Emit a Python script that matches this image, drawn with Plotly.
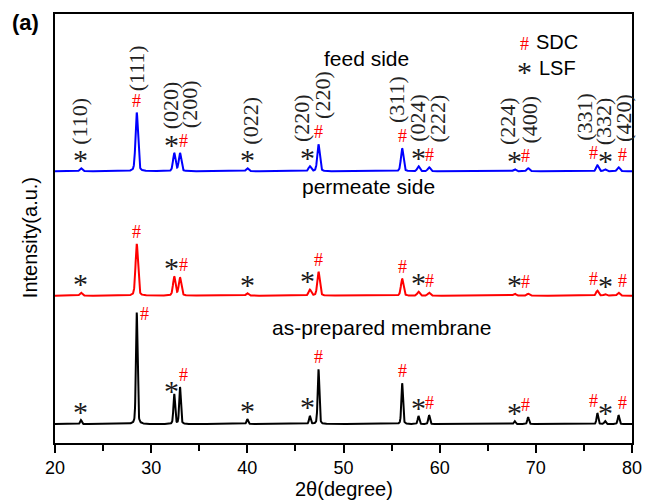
import numpy as np
import plotly.graph_objects as go

# Reflection positions (2θ, degree) and Miller indices of both phases
lsf_2theta = [22.7, 32.4, 40.0, 46.5, 57.8, 67.8, 77.2]
lsf_hkl = ["(110)", "(020)", "(022)", "(220)", "(024)", "(224)", "(332)"]
sdc_2theta = [28.5, 33.0, 47.4, 56.1, 58.9, 69.2, 76.4, 78.6]
sdc_hkl = ["(111)", "(200)", "(220)", "(311)", "(222)", "(400)", "(331)", "(420)"]

# Peak heights above background (a.u.) for each membrane side
asprep_lsf = [4, 30, 5, 8, 8, 3, 3]
asprep_sdc = [112, 37, 55, 41, 9, 7, 11, 9]
permeate_lsf = [3, 19, 2.5, 6, 4, 2, 1.5]
permeate_sdc = [52, 18, 24, 17, 3, 2, 5, 3]
feed_lsf = [3, 18, 3, 5, 5, 2, 2]
feed_sdc = [59, 18, 27, 23, 4, 3, 6, 4]

# Stacking: name, background level, colour, peak FWHM, LSF heights, SDC heights
patterns = [
    ("as-prepared membrane", 19, "#000000", 0.20, asprep_lsf, asprep_sdc),
    ("permeate side", 148, "#ff0000", 0.30, permeate_lsf, permeate_sdc),
    ("feed side", 273, "#0000ff", 0.30, feed_lsf, feed_sdc),
]

# horizontal nudges (px) keeping neighbouring markers apart
lsf_mark_dx = [0, -3, 0, -2, 0, 0, 0]
sdc_mark_dx = [0, 3, 0, 0, 0, -3, -4, 4]
lsf_label_dx = [-1, -4, 3, -9, -1, -7, -2]
sdc_label_dx = [0, 9, 4, -5, 8, 1, -13, 5]

SERIF = "Liberation Serif"
SANS = "Liberation Sans, Arial, sans-serif"
GAP = 12
STAR = dict(family=SERIF, size=30, color="#1a1a1a")
HASH = dict(family=SERIF, size=18, color="#ff0000")
HKL = dict(family=SERIF, size=22, color="#222222")


def profile(x, centers, heights, fwhm, eta=0.3):
    y = np.zeros_like(x)
    for c, h in zip(centers, heights):
        u = (x - c) / fwhm
        y += h * (eta / (1 + 4 * u**2) + (1 - eta) * np.exp(-4 * np.log(2) * u**2))
    return y


x = np.linspace(20, 80, 3001)
fig = go.Figure()
ann = []
all_pos = lsf_2theta + sdc_2theta

for name, base, color, fwhm, h_lsf, h_sdc in patterns:
    heights = h_lsf + h_sdc
    y = base + profile(x, all_pos, heights, fwhm)
    fig.add_trace(go.Scatter(x=x, y=y, mode="lines", name=name,
                             line=dict(color=color, width=2), showlegend=False))

    for i, t in enumerate(lsf_2theta):
        top = base + profile(np.array([t]), all_pos, heights, fwhm)[0]
        gap, dx = GAP, lsf_mark_dx[i]
        if name == "as-prepared membrane" and i == 1:
            gap = 6
        ann.append(dict(x=t, y=top + gap, text="*", showarrow=False, xshift=dx, yshift=-3,
                        font=STAR, xanchor="center", yanchor="middle"))
        if name == "feed side":
            ann.append(dict(x=t, y=top + gap + 10, text=lsf_hkl[i],
                            showarrow=False, textangle=-90, xshift=lsf_label_dx[i],
                            font=HKL, xanchor="center", yanchor="bottom"))

    for i, t in enumerate(sdc_2theta):
        top = base + profile(np.array([t]), all_pos, heights, fwhm)[0]
        gap, dx = GAP, sdc_mark_dx[i]
        if name == "as-prepared membrane" and i == 0:
            gap, dx = -1, 8
        ann.append(dict(x=t, y=top + gap, text="#", showarrow=False, xshift=dx,
                        font=HASH, xanchor="center", yanchor="middle"))
        if name == "feed side":
            lift = 7 if i == 0 else 11
            ann.append(dict(x=t, y=top + gap + lift, text=sdc_hkl[i],
                            showarrow=False, textangle=-90, xshift=sdc_label_dx[i],
                            font=HKL, xanchor="center", yanchor="bottom"))

# pattern names
name_pos = {"feed side": (52.4, 386), "permeate side": (52.6, 258), "as-prepared membrane": (54.0, 116)}
for name, (tx, ty) in name_pos.items():
    ann.append(dict(x=tx, y=ty, text=name, showarrow=False,
                    font=dict(family=SANS, size=21, color="#000000"),
                    xanchor="center", yanchor="middle"))

# phase key
ann += [
    dict(x=68.8, y=401, text="#", showarrow=False, font=HASH, xanchor="center", yanchor="middle"),
    dict(x=69.8, y=403, text="SDC", showarrow=False, font=dict(family=SANS, size=20, color="#000000"),
         xanchor="left", yanchor="middle"),
    dict(x=68.8, y=376, text="*", showarrow=False, font=STAR, yshift=-3, xanchor="center", yanchor="middle"),
    dict(x=70.1, y=377, text="LSF", showarrow=False, font=dict(family=SANS, size=20, color="#000000"),
         xanchor="left", yanchor="middle"),
]

# panel tag and axis titles
ann += [
    dict(xref="paper", yref="paper", x=-0.051, y=0.981, text="<b>(a)</b>", showarrow=False,
         font=dict(family=SANS, size=22, color="#000000"), xanchor="center", yanchor="middle"),
    dict(xref="paper", yref="paper", x=0.5, y=-0.107, text="2θ(degree)", showarrow=False,
         font=dict(family=SANS, size=20, color="#000000"), xanchor="center", yanchor="middle"),
    dict(xref="paper", yref="paper", x=-0.043, y=0.478, text="Intensity(a.u.)", showarrow=False,
         textangle=-90, font=dict(family=SANS, size=20, color="#000000"),
         xanchor="center", yanchor="middle"),
]

fig.update_layout(
    width=654, height=501,
    margin=dict(l=55, r=13, t=12, b=58),
    paper_bgcolor="white", plot_bgcolor="white",
    annotations=ann,
    xaxis=dict(range=[20, 80], dtick=10, tick0=20, ticks="outside", ticklen=8, tickwidth=1.5,
               tickcolor="black", showline=True, linecolor="black", linewidth=1.5, mirror=True,
               showgrid=False, zeroline=False,
               tickfont=dict(family=SANS, size=18, color="black"),
               minor=dict(dtick=5, ticks="outside", ticklen=6, tickwidth=1.5, tickcolor="black")),
    yaxis=dict(range=[0, 431], showticklabels=False, ticks="", showline=True, linecolor="black",
               linewidth=1.5, mirror=True, showgrid=False, zeroline=False),
)

fig.write_html("out.html")
